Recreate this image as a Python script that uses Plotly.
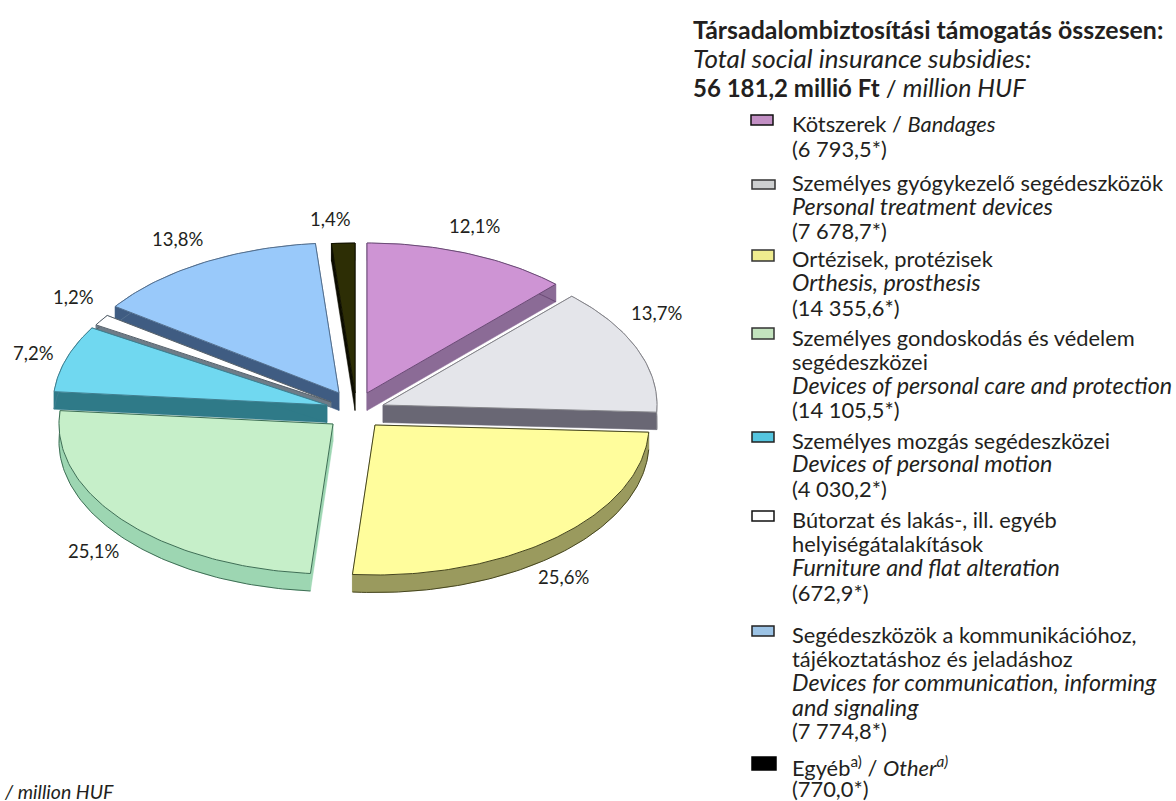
import numpy as np
import plotly.graph_objects as go

# ---- data ----
categories = ["Kötszerek", "Személyes gyógykezelő segédeszközök", "Ortézisek, protézisek",
              "Személyes gondoskodás és védelem segédeszközei", "Személyes mozgás segédeszközei",
              "Bútorzat és lakás-, ill. egyéb helyiségátalakítások",
              "Segédeszközök a kommunikációhoz, tájékoztatáshoz és jeladáshoz", "Egyéb"]
values = [6793.5, 7678.7, 14355.6, 14105.5, 4030.2, 672.9, 7774.8, 770.0]
pct_labels = ["12,1%", "13,7%", "25,6%", "25,1%", "7,2%", "1,2%", "13,8%", "1,4%"]

# ---- geometry and style ----
W, H = 1176, 801
RX, RY, DEPTH = 274, 150, 17.5
apex_x = [367, 383, 375, 333, 327, 331, 339, 355]
apex_y = [393, 405, 425, 424, 405, 402, 393, 393]
depths = [DEPTH, DEPTH, DEPTH, DEPTH, DEPTH, 5, DEPTH, DEPTH]
top_col = ["#CE94D4", "#E4E5EA", "#FFFD9C", "#C6EFC9", "#70D8F0", "#FFFFFF", "#99C9FA", "#2D2E05"]
side_col = ["#8B6B96", "#696774", "#9A9A5E", "#9DD6B2", "#2F7A88", "#6E7C88", "#3F5C82", "#0C0C00"]
edge_col = ["#6B4A76", "#85858A", "#45451E", "#3E6E55", "#3F7F90", "#55606A", "#54708F", "#111100"]
label_x = [474, 656, 563, 93, 33, 73, 177, 330]
label_y = [226, 313, 577, 551, 353, 297, 239, 219]
draw_order = [7, 6, 5, 4, 0, 1, 3, 2]
TXT = "#231F20"
FONT = "Lato"

fractions = np.array(values) / sum(values)
ends = np.cumsum(fractions) * 2 * np.pi
starts = ends - fractions * 2 * np.pi


def arc(i, a0, a1, dy=0.0):
    n = max(int(abs(a1 - a0) * 60), 4)
    t = np.linspace(a0, a1, n)
    return apex_x[i] + RX * np.sin(t), apex_y[i] - RY * np.cos(t) + dy


def poly(xs, ys, fill, line=None):
    return go.Scatter(x=list(xs), y=list(ys), mode="lines", fill="toself", fillcolor=fill,
                      line=dict(color=line or fill, width=1 if line else 0.5),
                      hoverinfo="skip", showlegend=False)


fig = go.Figure()
for i in draw_order:
    d = depths[i]
    ax, ay = apex_x[i], apex_y[i]
    ox, oy = arc(i, starts[i], ends[i])
    # cut walls
    for k in (0, -1):
        fig.add_trace(poly([ax, ox[k], ox[k], ax, ax], [ay, oy[k], oy[k] + d, ay + d, ay], side_col[i]))
    # rim
    fig.add_trace(poly(np.r_[ox, ox[::-1], ox[0]], np.r_[oy, oy[::-1] + d, oy[0]], side_col[i]))
    fig.add_trace(go.Scatter(x=list(ox), y=list(oy + d), mode="lines", hoverinfo="skip", showlegend=False,
                             line=dict(color=edge_col[i], width=1)))
    # top face
    fig.add_trace(poly(np.r_[ax, ox, ax], np.r_[ay, oy, ay], top_col[i], edge_col[i]))

annotations = []


def txt(x, y, s, size=19, anchor="left"):
    annotations.append(dict(x=x, y=y, xref="x", yref="y", text=s, showarrow=False, xanchor=anchor,
                            yanchor="middle", align="left", borderpad=0,
                            font=dict(family=FONT, size=size, color=TXT)))


for s, x, y in zip(pct_labels, label_x, label_y):
    txt(x, y, s, size=18.5, anchor="center")

txt(692, 29, "<b>Társadalombiztosítási támogatás összesen:</b>", 24.9)
txt(692, 58, "<i>Total social insurance subsidies:</i>", 26)
txt(692, 87, "<b>56 181,2 millió Ft</b> / <span style=\"font-size:25px\"><i>million HUF</i></span>", 24)
txt(3, 791, "<i>/ million HUF</i>", 19.5)

REG, ITA = 21.85, 23.3
legend_lines = [
    (123, "Kötszerek / <i>Bandages</i>", REG), (148, "(6 793,5*)", REG),
    (182, "Személyes gyógykezelő segédeszközök", REG), (206, "<i>Personal treatment devices</i>", ITA),
    (230, "(7 678,7*)", REG),
    (258, "Ortézisek, protézisek", REG), (282, "<i>Orthesis, prosthesis</i>", ITA), (307, "(14 355,6*)", REG),
    (337, "Személyes gondoskodás és védelem", REG), (361, "segédeszközei", REG),
    (385, "<i>Devices of personal care and protection</i>", ITA), (409, "(14 105,5*)", REG),
    (440, "Személyes mozgás segédeszközei", REG), (463, "<i>Devices of personal motion</i>", ITA),
    (488, "(4 030,2*)", REG),
    (519, "Bútorzat és lakás-, ill. egyéb", REG), (543, "helyiségátalakítások", REG),
    (567, "<i>Furniture and flat alteration</i>", ITA), (592, "(672,9*)", REG),
    (634, "Segédeszközök a kommunikációhoz,", REG), (658, "tájékoztatáshoz és jeladáshoz", REG),
    (682, "<i>Devices for communication, informing</i>", ITA), (707, "<i>and signaling</i>", ITA),
    (730, "(7 774,8*)", REG),
    (766, "Egyéb<sup>a)</sup> / <i>Other<sup>a)</sup></i>", REG), (788.5, "(770,0*)", REG),
]
for y, s, size in legend_lines:
    txt(791, y, s, size)

swatch_col = ["#C28FC4", "#CDCFD0", "#EFEC8F", "#C3E3BE", "#55C5DF", "#FFFFFF", "#9CC3E5", "#000000"]
swatch_line = ["#111111", "#333333", "#333333", "#333333", "#222222", "#111111", "#222222", "#000000"]
swatch_box = [(751, 115, 773, 125), (752, 180, 775, 189), (752, 250, 774, 261), (752, 328, 774, 339),
              (752, 432, 774, 442), (752, 511, 774, 521), (752, 626, 774, 636), (752, 757, 776, 770)]
shapes = [dict(type="rect", xref="x", yref="y", x0=b[0], y0=b[1], x1=b[2], y1=b[3], fillcolor=c,
               line=dict(color=l, width=1.5))
          for b, c, l in zip(swatch_box, swatch_col, swatch_line)]

fig.update_layout(width=W, height=H, margin=dict(l=0, r=0, t=0, b=0), autosize=False,
                  paper_bgcolor="white", plot_bgcolor="white", showlegend=False,
                  annotations=annotations, shapes=shapes,
                  xaxis=dict(range=[0, W], visible=False, fixedrange=True),
                  yaxis=dict(range=[H, 0], visible=False, fixedrange=True))
fig.write_html("out.html", post_script="document.body.style.margin='0';document.documentElement.style.overflow='hidden';",
               config=dict(displayModeBar=False))
